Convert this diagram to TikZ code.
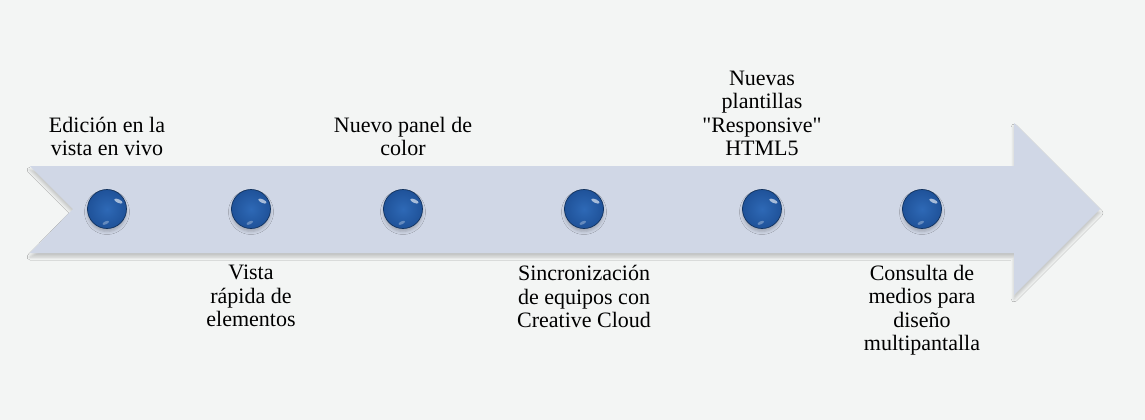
\documentclass[tikz,border=0pt]{standalone}
\usepackage{fontspec}
\setmainfont{Liberation Serif}
\usetikzlibrary{calc,shadows.blur}
\definecolor{pagebg}{HTML}{F3F5F4}
\definecolor{arrowfill}{HTML}{D0D7E6}
\definecolor{balldark}{HTML}{12335F}
\definecolor{ballmid}{HTML}{1F5299}
\definecolor{balllight}{HTML}{2E69B6}
\tikzset{
  label/.style={align=center, inner sep=0pt, font=\fontsize{22}{23.5}\selectfont},
  toplabel/.style={label, anchor=south},
  botlabel/.style={label, anchor=north},
  marker/.style={circle, minimum size=39pt, inner sep=0pt, draw=balldark, line width=0.7pt,
    inner color=balllight, outer color=ballmid,
    blur shadow={shadow xshift=0pt, shadow yshift=-3pt, shadow blur radius=3pt, shadow opacity=22}},
}
\begin{document}
\begin{tikzpicture}[x=1pt,y=-1pt]
  \fill[pagebg] (0,0) rectangle (1145,420);
  \useasboundingbox (0,0) rectangle (1145,420);
  % timeline arrow with notched tail
  \fill[arrowfill, blur shadow={shadow xshift=0pt, shadow yshift=-4pt, shadow blur radius=3pt, shadow opacity=20}]
    (30,166) -- (1014,166) -- (1014,123) -- (1100,209) -- (1014,295)
    -- (1014,253) -- (30,253) -- (73,209) -- cycle;
  % milestones with glossy highlights
  \foreach \n/\x in {m1/107, m2/251, m3/403, m4/584, m5/762, m6/922}{
    \node[marker] (\n) at (\x,209) {};
    \fill[white, opacity=0.6, rotate around={-25:($(\n.center)+(7,-12)$)}] ($(\n.center)+(7,-12)$) ellipse (4.5pt and 1.8pt);
    \fill[white, opacity=0.3, rotate around={25:($(\n.center)+(-7,12)$)}] ($(\n.center)+(-7,12)$) ellipse (3.5pt and 1.5pt);
  }
  % labels above and below the arrow
  \node[toplabel] (t1) at (107,156) {Edición en la\\vista en vivo};
  \node[botlabel] (b2) at (251,265) {Vista\\rápida de\\elementos};
  \node[toplabel] (t3) at (403,156) {Nuevo panel de\\color};
  \node[botlabel] (b4) at (584,265) {Sincronización\\de equipos con\\Creative Cloud};
  \node[toplabel] (t5) at (762,156) {Nuevas\\plantillas\\\textquotedbl Responsive\textquotedbl\\HTML5};
  \node[botlabel] (b6) at (922,265) {Consulta de\\medios para\\diseño\\multipantalla};
\end{tikzpicture}
\end{document}
